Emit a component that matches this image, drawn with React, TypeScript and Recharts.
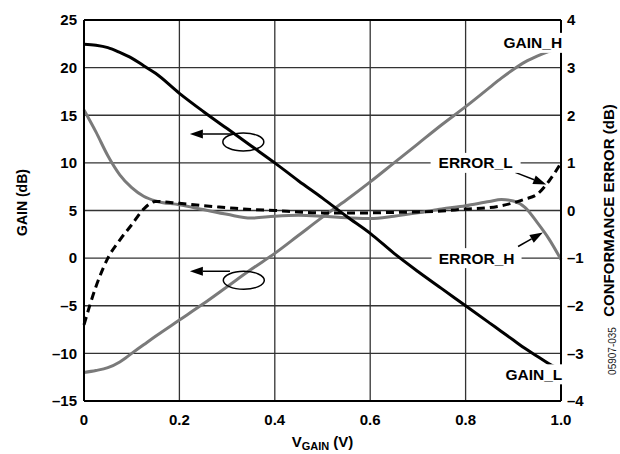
import React from 'react';
import {
    LineChart,
    Line,
    XAxis,
    YAxis,
    CartesianGrid,
    ReferenceDot,
    ReferenceLine,
} from 'recharts';

// V_GAIN sweep (V)
const vGain = [0, 0.025, 0.05, 0.075, 0.1, 0.125, 0.15, 0.2, 0.25, 0.3, 0.35, 0.4, 0.45, 0.5, 0.55, 0.6, 0.65, 0.7, 0.75, 0.8, 0.85, 0.875, 0.9, 0.925, 0.95, 0.975, 1.0];

// gain (dB), left axis
const gainL = [22.45, 22.35, 22.1, 21.6, 21.0, 20.2, 19.4, 17.3, 15.4, 13.6, 11.8, 10.0, 8.1, 6.3, 4.4, 2.6, 0.5, -1.4, -3.2, -5.0, -6.8, -7.7, -8.6, -9.5, -10.3, -11.1, -11.7];
const gainH = [-12.0, -11.8, -11.5, -10.9, -10.0, -9.1, -8.2, -6.5, -4.8, -3.0, -1.2, 0.5, 2.4, 4.3, 6.1, 8.0, 10.0, 12.0, 14.0, 15.9, 17.9, 18.9, 19.8, 20.6, 21.2, 21.7, 22.1];

// conformance error (dB), right axis
const errorL = [-2.4, -1.6, -1.0, -0.62, -0.3, 0.03, 0.19, 0.15, 0.1, 0.06, 0.02, 0.0, -0.03, -0.05, -0.05, -0.05, -0.04, -0.03, -0.01, 0.03, 0.06, 0.1, 0.16, 0.24, 0.34, 0.62, 1.0];
const errorH = [2.11, 1.65, 1.15, 0.75, 0.48, 0.3, 0.2, 0.12, 0.02, -0.08, -0.16, -0.12, -0.1, -0.12, -0.15, -0.17, -0.12, -0.05, 0.03, 0.1, 0.19, 0.23, 0.2, 0.06, -0.25, -0.6, -1.03];

const xTicks = [0, 0.2, 0.4, 0.6, 0.8, 1.0];
const gainTicks = [-15, -10, -5, 0, 5, 10, 15, 20, 25];
const errorTicks = [-4, -3, -2, -1, 0, 1, 2, 3, 4];

const data = vGain.map((v, i) => ({
    v,
    gainL: gainL[i],
    gainH: gainH[i],
    errorL: errorL[i],
    errorH: errorH[i],
}));

const FONT = '"Liberation Sans", Arial, Helvetica, sans-serif';
const tickStyle = { fontFamily: FONT, fontSize: 15, fontWeight: 700, fill: '#000' };

const fmtNum = (v: number) => (v < 0 ? '\u2013' + Math.abs(v) : String(v));
const fmtX = (v: number) => (v === 0 ? '0' : v.toFixed(1));

const tag = (text: string, boxW: number) => (p: any) => (
    <g>
        <rect x={p.cx - boxW / 2} y={p.cy - 10} width={boxW} height={20} fill="#fff" />
        <text
            x={p.cx}
            y={p.cy + 5.5}
            textAnchor="middle"
            fontFamily={FONT}
            fontSize={15.5}
            fontWeight={700}
            fill="#000"
        >
            {text}
        </text>
    </g>
);

const ellipse = (p: any) => (
    <ellipse cx={p.cx} cy={p.cy} rx={20.5} ry={9} fill="none" stroke="#000" strokeWidth={1.5} />
);

const arrow = (p: any) => {
    const { x1, y1, x2, y2 } = p;
    const a = Math.atan2(y2 - y1, x2 - x1);
    const len = 13;
    const half = 4.5;
    const bx = x2 - len * Math.cos(a);
    const by = y2 - len * Math.sin(a);
    const px = -Math.sin(a) * half;
    const py = Math.cos(a) * half;
    return (
        <g>
            <line x1={x1} y1={y1} x2={bx} y2={by} stroke="#000" strokeWidth={1.5} />
            <polygon points={`${x2},${y2} ${bx + px},${by + py} ${bx - px},${by - py}`} fill="#000" />
        </g>
    );
};

const leftTitle = (p: any) => {
    const vb = p.viewBox;
    const cx = vb.x + 22;
    const cy = vb.y + vb.height / 2 - 8;
    return (
        <text
            x={cx}
            y={cy}
            transform={`rotate(-90 ${cx} ${cy})`}
            textAnchor="middle"
            dominantBaseline="central"
            fontFamily={FONT}
            fontSize={14}
            fontWeight={700}
        >
            GAIN (dB)
        </text>
    );
};

const rightTitle = (p: any) => {
    const vb = p.viewBox;
    const cx = vb.x + 47;
    const cy = vb.y + vb.height / 2;
    const nx = vb.x + 51;
    const ny = vb.y + vb.height - 50;
    return (
        <g>
            <text
                x={cx}
                y={cy}
                transform={`rotate(-90 ${cx} ${cy})`}
                textAnchor="middle"
                dominantBaseline="central"
                fontFamily={FONT}
                fontSize={15}
                fontWeight={700}
            >
                CONFORMANCE ERROR (dB)
            </text>
            <text
                x={nx}
                y={ny}
                transform={`rotate(-90 ${nx} ${ny})`}
                textAnchor="middle"
                dominantBaseline="central"
                fontFamily={FONT}
                fontSize={10}
                fill="#222"
            >
                05907-035
            </text>
        </g>
    );
};

const bottomTitle = (p: any) => {
    const vb = p.viewBox;
    const cx = vb.x + vb.width / 2;
    const y = vb.y + 46;
    return (
        <text x={cx} y={y} textAnchor="middle" fontFamily={FONT} fontSize={15} fontWeight={700}>
            <tspan>V</tspan>
            <tspan fontSize={11} dy={2.5}>GAIN</tspan>
            <tspan dy={-2.5}> (V)</tspan>
        </text>
    );
};

export default function App() {
    return (
        <div style={{ position: 'absolute', left: 0, top: 0, width: 620, height: 454, overflow: 'hidden' }}>
            <LineChart width={620} height={454} data={data} margin={{ top: 20, right: 0, bottom: 0, left: 0 }}>
                <CartesianGrid yAxisId="left" stroke="#333" strokeWidth={1.3} />
                <XAxis
                    dataKey="v"
                    type="number"
                    domain={[0, 1]}
                    ticks={xTicks}
                    tickFormatter={fmtX}
                    tick={tickStyle}
                    tickLine={false}
                    tickMargin={7}
                    height={53}
                    stroke="#000"
                    strokeWidth={2}
                    label={{ content: bottomTitle }}
                />
                <YAxis
                    yAxisId="left"
                    domain={[-15, 25]}
                    ticks={gainTicks}
                    tickFormatter={fmtNum}
                    tick={tickStyle}
                    tickLine={false}
                    tickMargin={1}
                    width={84}
                    stroke="#000"
                    strokeWidth={2}
                    label={{ content: leftTitle }}
                />
                <YAxis
                    yAxisId="right"
                    orientation="right"
                    domain={[-4, 4]}
                    ticks={errorTicks}
                    tickFormatter={fmtNum}
                    tick={tickStyle}
                    tickLine={false}
                    tickMargin={0}
                    width={59}
                    stroke="#000"
                    strokeWidth={2}
                    label={{ content: rightTitle }}
                />
                <ReferenceLine yAxisId="left" y={25} stroke="#000" strokeWidth={2} />

                <Line yAxisId="left" type="monotone" dataKey="gainH" stroke="#7a7a7a" strokeWidth={3} dot={false} isAnimationActive={false} />
                <Line yAxisId="right" type="monotone" dataKey="errorH" stroke="#7a7a7a" strokeWidth={3} dot={false} isAnimationActive={false} />
                <Line yAxisId="left" type="monotone" dataKey="gainL" stroke="#000" strokeWidth={3} dot={false} isAnimationActive={false} />
                <Line yAxisId="right" type="monotone" dataKey="errorL" stroke="#000" strokeWidth={3} strokeDasharray="8 5" dot={false} isAnimationActive={false} />

                <ReferenceDot yAxisId="left" x={0.941} y={22.6} shape={tag('GAIN_H', 62)} />
                <ReferenceDot yAxisId="left" x={0.943} y={-12.2} shape={tag('GAIN_L', 62)} />
                <ReferenceDot yAxisId="right" x={0.821} y={1} shape={tag('ERROR_L', 90)} />
                <ReferenceDot yAxisId="right" x={0.823} y={-1} shape={tag('ERROR_H', 90)} />

                <ReferenceLine yAxisId="right" segment={[{ x: 0.904, y: 0.8 }, { x: 0.969, y: 0.546 }]} shape={arrow} />
                <ReferenceLine yAxisId="right" segment={[{ x: 0.91, y: -0.756 }, { x: 0.962, y: -0.462 }]} shape={arrow} />

                <ReferenceDot yAxisId="left" x={0.334} y={12.2} shape={ellipse} />
                <ReferenceLine yAxisId="left" segment={[{ x: 0.32, y: 13.03 }, { x: 0.222, y: 13.03 }]} shape={arrow} />
                <ReferenceDot yAxisId="left" x={0.335} y={-2.33} shape={ellipse} />
                <ReferenceLine yAxisId="left" segment={[{ x: 0.306, y: -1.38 }, { x: 0.222, y: -1.38 }]} shape={arrow} />
            </LineChart>
        </div>
    );
}
